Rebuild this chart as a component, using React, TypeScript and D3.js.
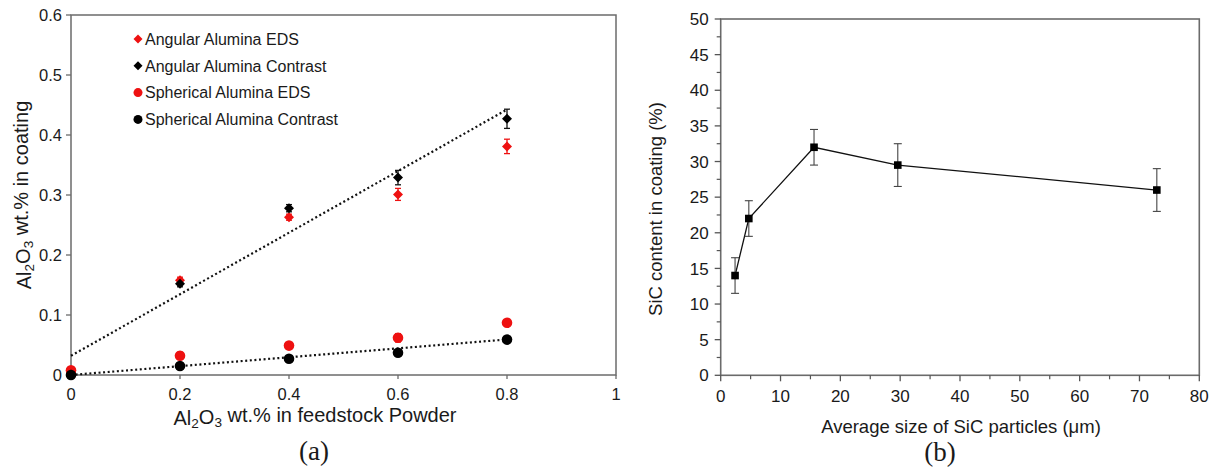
import React from "react";
import * as d3 from "d3";

// ---------- Panel (a) data ----------
const feedstock = [0, 0.2, 0.4, 0.6, 0.8];
const angularEDS = [0.004, 0.158, 0.263, 0.301, 0.381];
const angularEDSErr = [0.003, 0.005, 0.005, 0.01, 0.012];
const angularContrast = [0.001, 0.152, 0.278, 0.329, 0.427];
const angularContrastErr = [0.002, 0.005, 0.006, 0.012, 0.016];
const sphericalEDS = [0.008, 0.032, 0.049, 0.062, 0.087];
const sphericalEDSErr = [0.003, 0.006, 0.003, 0.007, 0.003];
const sphericalContrast = [0.0, 0.015, 0.027, 0.037, 0.059];
const sphericalContrastErr = [0.002, 0.003, 0.003, 0.003, 0.003];
const angularFit = [0.032, 0.513]; // intercept, slope
const sphericalFit = [0.0, 0.074];
const aXTicks = [0, 0.2, 0.4, 0.6, 0.8, 1];
const aYTicks = [0, 0.1, 0.2, 0.3, 0.4, 0.5, 0.6];
const legendLabels = [
  "Angular Alumina EDS",
  "Angular Alumina Contrast",
  "Spherical Alumina EDS",
  "Spherical Alumina Contrast",
];

// ---------- Panel (b) data ----------
const sicSize = [2.4, 4.7, 15.6, 29.6, 72.9];
const sicContent = [14, 22, 32, 29.5, 26];
const sicErr = [2.5, 2.5, 2.5, 3, 3];
const bXTicks = [0, 10, 20, 30, 40, 50, 60, 70, 80];
const bXMinor = [5, 15, 25, 35, 45, 55, 65, 75];
const bYTicks = [0, 5, 10, 15, 20, 25, 30, 35, 40, 45, 50];
const bYMinor = [2.5, 7.5, 12.5, 17.5, 22.5, 27.5, 32.5, 37.5, 42.5, 47.5];

const FONT = "'Liberation Sans', Arial, sans-serif";
const RED = "#ee1111";
const TXT = "#1a1a1a";

function Diamond({ cx, cy, s, fill }: { cx: number; cy: number; s: number; fill: string }) {
  return (
    <path
      d={`M${cx},${cy - s}L${cx + s},${cy}L${cx},${cy + s}L${cx - s},${cy}Z`}
      fill={fill}
    />
  );
}

function ErrBar({ x, y0, y1, w, color, sw = 1.3 }: { x: number; y0: number; y1: number; w: number; color: string; sw?: number }) {
  return (
    <g stroke={color} strokeWidth={sw} fill="none">
      <line x1={x} x2={x} y1={y0} y2={y1} />
      <line x1={x - w / 2} x2={x + w / 2} y1={y0} y2={y0} />
      <line x1={x - w / 2} x2={x + w / 2} y1={y1} y2={y1} />
    </g>
  );
}

function Al2O3() {
  return (
    <>
      Al
      <tspan fontSize="0.68em" dy="0.22em">2</tspan>
      <tspan dy="-0.22em">O</tspan>
      <tspan fontSize="0.68em" dy="0.22em">3</tspan>
      <tspan dy="-0.22em"> wt.% </tspan>
    </>
  );
}

function PanelA() {
  const x = d3.scaleLinear().domain([0, 1]).range([71, 616]);
  const y = d3.scaleLinear().domain([0, 0.6]).range([375, 15]);
  const fmt = (v: number) => (v === 0 ? "0" : v === 1 ? "1" : d3.format(".1f")(v));
  const fitLine = (f: number[], x1: number) =>
    d3.line<number>().x((d) => x(d)).y((d) => y(f[0] + f[1] * d))([0, x1]) || "";

  return (
    <g fontFamily={FONT}>
      {/* frame */}
      <rect x={x(0)} y={y(0.6)} width={x(1) - x(0)} height={y(0) - y(0.6)} fill="none" stroke="#6b6b6b" strokeWidth={1.5} />
      {/* ticks */}
      {aYTicks.map((t) => (
        <g key={"ay" + t}>
          <line x1={x(0) - 5} x2={x(0)} y1={y(t)} y2={y(t)} stroke="#6b6b6b" strokeWidth={1.3} />
          <text x={x(0) - 9} y={y(t)} dy="0.36em" textAnchor="end" fontSize={16.5} fill={TXT}>
            {fmt(t)}
          </text>
        </g>
      ))}
      {aXTicks.map((t) => (
        <g key={"ax" + t}>
          <line x1={x(t)} x2={x(t)} y1={y(0)} y2={y(0) + 4} stroke="#6b6b6b" strokeWidth={1.3} />
          <text x={x(t)} y={400} textAnchor="middle" fontSize={16.5} fill={TXT}>
            {fmt(t)}
          </text>
        </g>
      ))}
      {/* trend lines */}
      <path d={fitLine(angularFit, 0.8)} stroke="#111" strokeWidth={2.2} strokeDasharray="2 2.6" fill="none" />
      <path d={fitLine(sphericalFit, 0.8)} stroke="#111" strokeWidth={2.2} strokeDasharray="2 2.6" fill="none" />
      {/* error bars */}
      {feedstock.map((f, i) => (
        <g key={"e" + i}>
          <ErrBar x={x(f)} y0={y(sphericalEDS[i] - sphericalEDSErr[i])} y1={y(sphericalEDS[i] + sphericalEDSErr[i])} w={6} color={RED} />
          <ErrBar x={x(f)} y0={y(angularEDS[i] - angularEDSErr[i])} y1={y(angularEDS[i] + angularEDSErr[i])} w={6} color={RED} />
          <ErrBar x={x(f)} y0={y(sphericalContrast[i] - sphericalContrastErr[i])} y1={y(sphericalContrast[i] + sphericalContrastErr[i])} w={6} color="#111" />
          <ErrBar x={x(f)} y0={y(angularContrast[i] - angularContrastErr[i])} y1={y(angularContrast[i] + angularContrastErr[i])} w={6} color="#111" />
        </g>
      ))}
      {/* markers */}
      {feedstock.map((f, i) => (
        <circle key={"se" + i} cx={x(f)} cy={y(sphericalEDS[i])} r={5.3} fill={RED} />
      ))}
      {feedstock.map((f, i) => (
        <Diamond key={"ae" + i} cx={x(f)} cy={y(angularEDS[i])} s={5} fill={RED} />
      ))}
      {feedstock.map((f, i) => (
        <circle key={"sc" + i} cx={x(f)} cy={y(sphericalContrast[i])} r={5.3} fill="#000" />
      ))}
      {feedstock.map((f, i) => (
        <Diamond key={"ac" + i} cx={x(f)} cy={y(angularContrast[i])} s={5} fill="#000" />
      ))}
      {/* legend */}
      {legendLabels.map((lab, i) => {
        const ly = 39 + i * 26.8;
        const col = i % 2 === 0 ? RED : "#000";
        return (
          <g key={lab}>
            {i < 2 ? (
              <Diamond cx={138} cy={ly} s={4.5} fill={col} />
            ) : (
              <circle cx={138} cy={ly} r={4.5} fill={col} />
            )}
            <text x={145} y={ly} dy="0.36em" fontSize={16} fill={TXT}>
              {lab}
            </text>
          </g>
        );
      })}
      {/* axis labels */}
      <text x={315} y={425} textAnchor="middle" fontSize={20} fill={TXT}>
        <Al2O3 />in feedstock Powder
      </text>
      <text transform={`translate(31,${(y(0) + y(0.6)) / 2}) rotate(-90)`} textAnchor="middle" fontSize={20} fill={TXT}>
        <Al2O3 />in coating
      </text>
      <text x={314} y={460} textAnchor="middle" fontSize={27} fontFamily="'Liberation Serif', 'Times New Roman', serif" fill={TXT}>
        (a)
      </text>
    </g>
  );
}

function PanelB() {
  const x = d3.scaleLinear().domain([0, 80]).range([720.7, 1199.3]);
  const y = d3.scaleLinear().domain([0, 50]).range([375.3, 19]);
  const line = d3
    .line<number>()
    .x((i) => x(sicSize[i]))
    .y((i) => y(sicContent[i]));
  const idx = sicSize.map((_, i) => i);
  const AX = "#555";
  return (
    <g fontFamily={FONT}>
      <rect x={x(0)} y={y(50)} width={x(80) - x(0)} height={y(0) - y(50)} fill="none" stroke="#6b6b6b" strokeWidth={1.6} />
      {bYTicks.map((t) => (
        <g key={"by" + t}>
          <line x1={x(0) - 6} x2={x(0)} y1={y(t)} y2={y(t)} stroke={AX} strokeWidth={1.3} />
          <text x={x(0) - 12} y={y(t)} dy="0.36em" textAnchor="end" fontSize={17} fill={TXT}>
            {t}
          </text>
        </g>
      ))}
      {bYMinor.map((t) => (
        <line key={"bym" + t} x1={x(0) - 4} x2={x(0)} y1={y(t)} y2={y(t)} stroke={AX} strokeWidth={1.2} />
      ))}
      {bXTicks.map((t) => (
        <g key={"bx" + t}>
          <line x1={x(t)} x2={x(t)} y1={y(0)} y2={y(0) + 6} stroke={AX} strokeWidth={1.3} />
          <text x={x(t)} y={402} textAnchor="middle" fontSize={17} fill={TXT}>
            {t}
          </text>
        </g>
      ))}
      {bXMinor.map((t) => (
        <line key={"bxm" + t} x1={x(t)} x2={x(t)} y1={y(0)} y2={y(0) + 4} stroke={AX} strokeWidth={1.2} />
      ))}
      <path d={line(idx) || ""} fill="none" stroke="#111" strokeWidth={1.3} />
      {idx.map((i) => (
        <ErrBar key={"be" + i} x={x(sicSize[i])} y0={y(sicContent[i] - sicErr[i])} y1={y(sicContent[i] + sicErr[i])} w={8} color="#444" sw={1.1} />
      ))}
      {idx.map((i) => (
        <rect key={"bm" + i} x={x(sicSize[i]) - 3.8} y={y(sicContent[i]) - 3.8} width={7.6} height={7.6} fill="#000" />
      ))}
      <text x={961} y={433} textAnchor="middle" fontSize={18.5} fill={TXT}>
        Average size of SiC particles (μm)
      </text>
      <text transform={`translate(662,209) rotate(-90)`} textAnchor="middle" fontSize={18.5} fill={TXT}>
        SiC content in coating (%)
      </text>
      <text x={940} y={461} textAnchor="middle" fontSize={27} fontFamily="'Liberation Serif', 'Times New Roman', serif" fill={TXT}>
        (b)
      </text>
    </g>
  );
}

export default function App() {
  return (
    <svg
      width={1217}
      height={471}
      viewBox="0 0 1217 471"
      style={{ position: "absolute", left: 0, top: 0, background: "#fff" }}
    >
      <rect width={1217} height={471} fill="#fff" />
      <PanelA />
      <PanelB />
    </svg>
  );
}
